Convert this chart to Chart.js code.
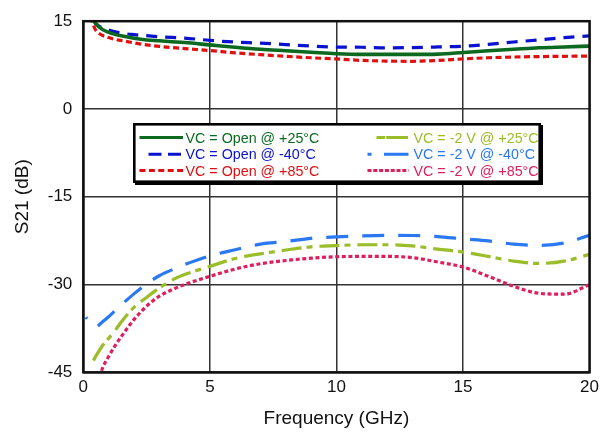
<!DOCTYPE html>
<html><head><meta charset="utf-8">
<script src="https://cdn.jsdelivr.net/npm/chart.js@4.4.1/dist/chart.umd.min.js"></script>
<style>html,body{margin:0;padding:0;background:#fff;}#wrap{width:604px;height:433px;position:relative;}</style>
</head><body><div id="wrap"><canvas id="c" width="604" height="433"></canvas></div>
<script>
// ---- data (frequency in GHz, S21 in dB) ----
const freqGHz   = [0.1, 0.3, 0.4, 0.5, 0.75, 1, 1.25, 1.5, 2, 2.5, 3, 3.5, 4, 5, 6, 7, 8, 9, 10, 11, 12, 13, 14, 15, 16, 17, 18, 19, 20];
const openP25   = [null, 16.5, 15.3, 14.6, 13.6, 13.1, 12.75, 12.5, 12.1, 11.8, 11.65, 11.5, 11.35, 10.95, 10.55, 10.2, 9.95, 9.7, 9.45, 9.33, 9.33, 9.33, 9.38, 9.65, 9.95, 10.2, 10.45, 10.6, 10.74];
const openM40   = [null, null, 15.2, 14.5, 13.9, 13.5, 13.2, 12.95, 12.7, 12.53, 12.35, 12.22, 12.12, 11.72, 11.43, 11.25, 11.0, 10.75, 10.57, 10.55, 10.45, 10.5, 10.6, 10.72, 11.05, 11.45, 11.8, 12.2, 12.5];
const openP85   = [null, 15.8, 14.3, 13.4, 12.6, 12.2, 11.9, 11.7, 11.3, 10.95, 10.7, 10.5, 10.32, 9.98, 9.6, 9.28, 9.0, 8.75, 8.55, 8.3, 8.18, 8.15, 8.3, 8.55, 8.75, 8.88, 8.95, 9.0, 9.04];
const neg2vP25  = [null, null, -43.0, -42.2, -40.5, -39.2, -37.9, -36.4, -33.9, -32.2, -30.6, -29.25, -28.3, -26.9, -25.55, -24.75, -24.1, -23.55, -23.35, -23.2, -23.2, -23.4, -23.95, -24.45, -25.2, -26.0, -26.4, -26.0, -24.85];
const neg2vM40  = [-35.6, -36.6, -37.0, -37.2, -36.4, -35.5, -34.5, -33.5, -31.6, -29.9, -28.5, -27.5, -26.6, -25.1, -24.05, -23.1, -22.65, -22.1, -21.85, -21.68, -21.6, -21.62, -21.8, -22.2, -22.55, -23.1, -23.3, -22.9, -21.6];
const neg2vP85  = [null, null, null, -48.0, -44.4, -42.3, -40.5, -38.9, -36.0, -33.7, -32.0, -30.9, -30.0, -28.6, -27.35, -26.45, -25.9, -25.5, -25.25, -25.2, -25.2, -25.4, -26.15, -27.0, -28.6, -30.3, -31.5, -31.65, -30.0];
const seriesLabels = ['VC = Open @ +25°C', 'VC = Open @ -40°C', 'VC = Open @ +85°C',
                      'VC = -2 V @ +25°C', 'VC = -2 V @ -40°C', 'VC = -2 V @ +85°C'];
const xTicks = [0, 5, 10, 15, 20];
const yTicks = [-45, -30, -15, 0, 15];

// ---- styles ----
const colors = ['#0b6a1f', '#0a12cf', '#e01010', '#9bbd2a', '#2a78f2', '#de1f5e'];
const dashes = [[], [11, 8], [6, 3.5], [20, 5, 6, 7], [22, 14], [4, 2.6]];
const dashOffsets = [0, 0, 0, 0, 20, 0];
const widths = [3.6, 3.2, 3.2, 3.2, 3.2, 3.2];
const seriesData = [openP25, openM40, openP85, neg2vP25, neg2vM40, neg2vP85];

const FONT = "'Liberation Sans', Arial, Helvetica, sans-serif";

const datasets = seriesData.map((vals, i) => ({
  label: seriesLabels[i],
  data: freqGHz.map((f, j) => ({x: f, y: vals[j]})),
  borderColor: colors[i],
  borderWidth: widths[i],
  borderDash: dashes[i],
  borderDashOffset: dashOffsets[i],
  borderCapStyle: 'butt',
  pointRadius: 0,
  fill: false,
  spanGaps: false,
  cubicInterpolationMode: 'monotone'
}));

// legend sample definitions (pixel layout of the boxed legend)
const legendRows = [
  {col: 0, row: 0, x0: 139.5, x1: 183, dash: [], w: 3},
  {col: 0, row: 1, x0: 148.5, x1: 181, dash: [13, 6.5], w: 3},
  {col: 0, row: 2, x0: 139.5, x1: 183.5, dash: [6, 3.4], w: 3},
  {col: 1, row: 0, x0: 376.5, x1: 408, dash: [8.5, 1.2, 22, 0], w: 3},
  {col: 1, row: 1, x0: 367.5, x1: 408.5, dash: [4, 12.5, 24.5, 0], w: 3},
  {col: 1, row: 2, x0: 367.5, x1: 408.5, dash: [4, 1.8], w: 3}
];

const boxLegend = {
  id: 'boxLegend',
  afterDraw(chart) {
    const ctx = chart.ctx;
    const a = chart.chartArea;
    ctx.save();
    // frame around plot area
    ctx.strokeStyle = '#111';
    ctx.lineWidth = 2.5;
    ctx.strokeRect(a.left, a.top, a.right - a.left, a.bottom - a.top);
    // legend box with shadow
    const bx = 133, by = 123, bw = 408, bh = 60;
    ctx.fillStyle = '#000';
    ctx.fillRect(bx + 2, by + 2, bw, bh);
    ctx.fillStyle = '#fff';
    ctx.fillRect(bx, by, bw, bh);
    ctx.lineWidth = 2.6;
    ctx.strokeStyle = '#000';
    ctx.strokeRect(bx + 1.3, by + 1.3, bw - 2.6, bh - 2.6);
    const rowY = [137.5, 154.3, 170.5];
    const textX = [185.5, 413.5];
    ctx.font = '14.3px ' + FONT;
    ctx.textBaseline = 'middle';
    ctx.textAlign = 'left';
    legendRows.forEach((r, i) => {
      const y = rowY[r.row];
      ctx.beginPath();
      ctx.setLineDash(r.dash);
      ctx.lineDashOffset = 0;
      ctx.lineCap = 'butt';
      ctx.lineWidth = r.w;
      ctx.strokeStyle = colors[i];
      ctx.moveTo(r.x0, y);
      ctx.lineTo(r.x1, y);
      ctx.stroke();
      ctx.setLineDash([]);
      ctx.fillStyle = colors[i];
      ctx.fillText(seriesLabels[i], textX[r.col], y + 1.2);
    });
    ctx.restore();
  }
};

new Chart(document.getElementById('c'), {
  type: 'line',
  data: {datasets},
  options: {
    responsive: false,
    devicePixelRatio: 1,
    animation: false,
    layout: {padding: {top: 20, right: 13, left: 0, bottom: 0}},
    plugins: {legend: {display: false}, tooltip: {enabled: false}},
    scales: {
      x: {
        type: 'linear', min: 0, max: 20,
        afterBuildTicks: s => { s.ticks = xTicks.map(v => ({value: v})); },
        afterFit: s => { s.height = 60.7; },
        ticks: {font: {family: FONT, size: 17}, color: '#111', padding: 5, maxRotation: 0},
        grid: {color: '#333', lineWidth: 1.5, drawTicks: false},
        border: {display: false},
        title: {display: true, text: 'Frequency (GHz)', font: {family: FONT, size: 19}, color: '#111', padding: {top: 0, bottom: 3}}
      },
      y: {
        min: -45, max: 15,
        afterBuildTicks: s => { s.ticks = yTicks.map(v => ({value: v})); },
        afterFit: s => { s.width = 83.3; },
        ticks: {font: {family: FONT, size: 17}, color: '#111', padding: 11},
        grid: {color: '#333', lineWidth: 1.5, drawTicks: false},
        border: {display: false},
        title: {display: true, text: 'S21 (dB)', font: {family: FONT, size: 19}, color: '#111', padding: {top: 11, bottom: 0}}
      }
    }
  },
  plugins: [boxLegend]
});
</script>
</body></html>
